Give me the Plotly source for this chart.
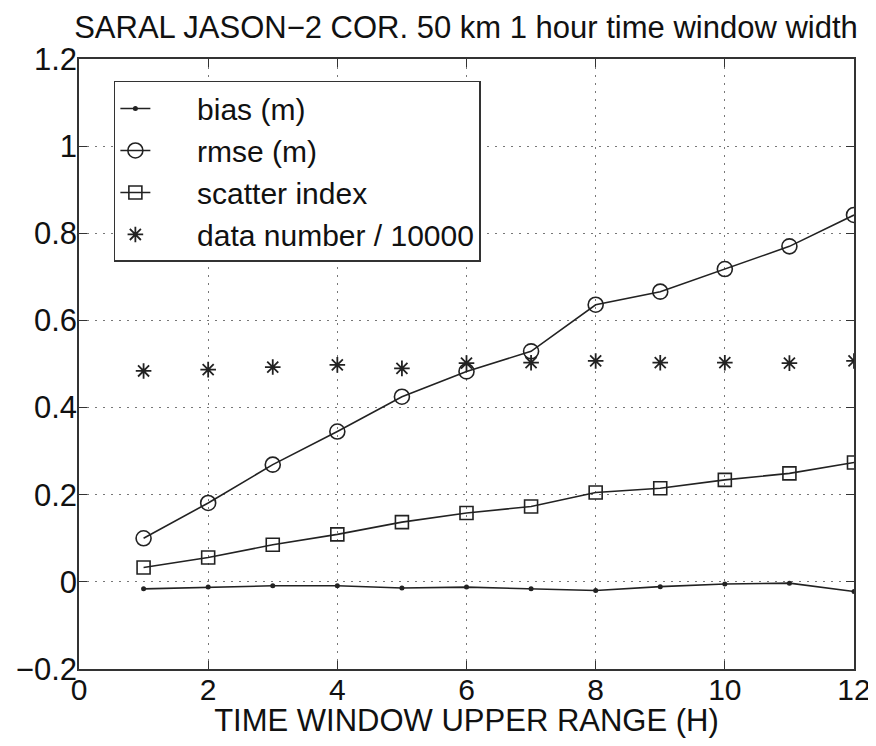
import plotly.graph_objects as go

hours = [1, 2, 3, 4, 5, 6, 7, 8, 9, 10, 11, 12]
bias = [-0.016, -0.012, -0.009, -0.009, -0.014, -0.012, -0.016, -0.020, -0.011, -0.005, -0.003, -0.022]
rmse = [0.100, 0.181, 0.269, 0.345, 0.425, 0.483, 0.529, 0.636, 0.666, 0.718, 0.770, 0.842]
scatter_index = [0.033, 0.056, 0.085, 0.109, 0.137, 0.158, 0.173, 0.205, 0.215, 0.234, 0.249, 0.274]
data_number = [0.484, 0.487, 0.493, 0.498, 0.490, 0.502, 0.503, 0.507, 0.503, 0.503, 0.502, 0.507]

x_ticks = [0, 2, 4, 6, 8, 10, 12]
y_ticks = [-0.2, 0, 0.2, 0.4, 0.6, 0.8, 1, 1.2]
y_tick_text = ["\u22120.2", "0", "0.2", "0.4", "0.6", "0.8", "1", "1.2"]

FONT = "Liberation Sans, Arial, Helvetica, sans-serif"
INK = "#222222"
TXT = "#111111"
PAD = "\u00a0\u00a0\u00a0\u00a0\u00a0"

fig = go.Figure()
fig.add_trace(go.Scatter(
    x=hours, y=bias, name=PAD + "bias (m)", mode="lines+markers",
    line=dict(color=INK, width=1.6),
    marker=dict(symbol="circle", size=5, color=INK),
))
fig.add_trace(go.Scatter(
    x=hours, y=rmse, name=PAD + "rmse (m)", mode="lines+markers",
    line=dict(color=INK, width=1.6),
    marker=dict(symbol="circle-open", size=15, color=INK, line=dict(width=1.6, color=INK)),
))
fig.add_trace(go.Scatter(
    x=hours, y=scatter_index, name=PAD + "scatter index", mode="lines+markers",
    line=dict(color=INK, width=1.6),
    marker=dict(symbol="square-open", size=13, color=INK, line=dict(width=1.6, color=INK)),
))
fig.add_trace(go.Scatter(
    x=hours, y=data_number, name=PAD + "data number / 10000", mode="markers",
    marker=dict(symbol="asterisk-open", size=13, color=INK, line=dict(width=1.8, color=INK)),
))

# the page body has an 8px margin: the figure is offset so the plot lands where the reference has it
W, H, OFF = 868, 730, 8
fig.update_layout(
    width=W, height=H,
    margin=dict(l=79 - OFF, r=W - (854 - OFF), t=59 - OFF, b=H - (669 - OFF), autoexpand=False),
    paper_bgcolor="white", plot_bgcolor="white",
    font=dict(family=FONT, size=30, color=TXT),
    title=dict(text="SARAL JASON\u22122 COR. 50 km 1 hour time window width",
               x=(466 - OFF) / W, xanchor="center", y=1 - (27 - OFF) / H, yanchor="middle",
               font=dict(family=FONT, size=31, color=TXT)),
    showlegend=True,
    legend=dict(x=0.045, y=0.964, xanchor="left", yanchor="top",
                bgcolor="white", bordercolor="#333333", borderwidth=1.5,
                font=dict(family=FONT, size=30, color=TXT),
                tracegroupgap=0),
    xaxis=dict(range=[0, 12], tickvals=x_ticks, ticks="inside", ticklen=8,
               tickcolor="#333333", showline=True, linecolor="#333333", linewidth=1.5,
               mirror="ticks", showgrid=True, gridcolor="#777777", griddash="2px,6px",
               gridwidth=1.2, zeroline=False, ticklabeloverflow="allow",
               ticklabelstandoff=-7, automargin=False,
               title=dict(text="TIME WINDOW UPPER RANGE (H)", standoff=1,
                          font=dict(family=FONT, size=31, color=TXT)),
               tickfont=dict(family=FONT, size=30, color=TXT)),
    yaxis=dict(range=[-0.2, 1.2], tickvals=y_ticks, ticktext=y_tick_text, ticks="inside",
               ticklen=8, tickcolor="#333333", showline=True, linecolor="#333333",
               linewidth=1.5, mirror="ticks", showgrid=True, gridcolor="#777777",
               griddash="2px,6px", gridwidth=1.2, zeroline=False,
               ticklabelstandoff=-6, automargin=False,
               tickfont=dict(family=FONT, size=31, color=TXT)),
)

fig.write_html("out.html")
